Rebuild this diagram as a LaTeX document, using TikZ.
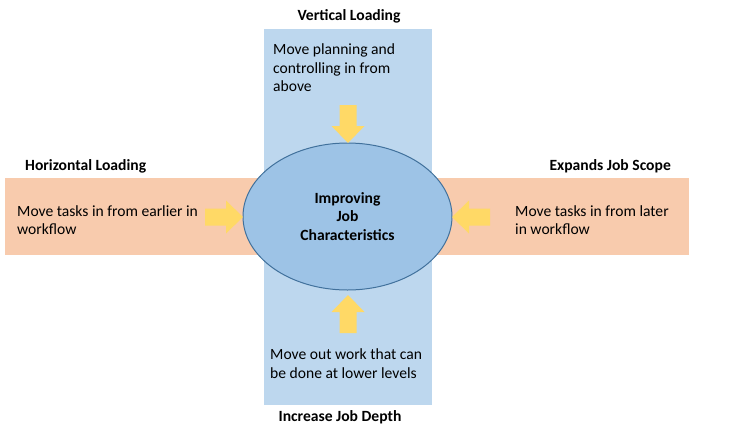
\documentclass[tikz,border=0pt]{standalone}
\usepackage{fontspec}
\setmainfont{Carlito}
\usetikzlibrary{shapes.geometric}
\definecolor{bandblue}{HTML}{BDD7EE}
\definecolor{bandorange}{HTML}{F8CBAD}
\definecolor{ellfill}{HTML}{9DC3E6}
\definecolor{ellline}{HTML}{41719C}
\definecolor{arrowgold}{HTML}{FFD966}
\tikzset{
  band/.style={draw=none},
  bodytext/.style={font=\fontsize{15.6}{18.5}\selectfont, align=left, inner sep=0pt},
  headtext/.style={font=\fontsize{15.6}{18.5}\selectfont\bfseries, inner sep=0pt},
  pics/blockarrow/.style={code={
    \fill[arrowgold] (0,0) -- (-17,16.5) -- (-17,8.5) -- (-38,8.5) -- (-38,-8.5) -- (-17,-8.5) -- (-17,-16.5) -- cycle;
  }}
}
\begin{document}
\begin{tikzpicture}[x=1pt,y=-1pt]
\useasboundingbox (0,0) rectangle (753,429);
\fill[white] (0,0) rectangle (753,429);
% bands
\fill[bandorange, band] (5,178) rectangle (689,255);
\fill[bandblue, band] (264,29) rectangle (432,405);
% ellipse
\node[ellipse, draw=ellline, line width=1pt, fill=ellfill, minimum width=209pt, minimum height=147pt, inner sep=0pt,
  font=\fontsize{15.6}{18.5}\selectfont\bfseries, align=center] (core) at (347.5,216.5) {Improving\\Job\\Characteristics};
% arrows
\coordinate (tTop) at (348,143);
\coordinate (tBot) at (348,295);
\coordinate (tLeft) at (243,217);
\coordinate (tRight) at (452,217);
\pic[rotate=-90] at (tTop) {blockarrow};
\pic[rotate=90] at (tBot) {blockarrow};
\pic at (tLeft) {blockarrow};
\pic[rotate=180] at (tRight) {blockarrow};
% headings
\node[headtext] (hv) at (349,16) {Vertical Loading};
\node[headtext, anchor=west] (hh) at (25,166) {Horizontal Loading};
\node[headtext, anchor=east] (he) at (671,166) {Expands Job Scope};
\node[headtext] (hd) at (340,417) {Increase Job Depth};
% body texts
\node[bodytext, anchor=west] (bt) at (273,68) {Move planning and\\controlling in from\\above};
\node[bodytext, anchor=west] (bl) at (17,220) {Move tasks in from earlier in\\workflow};
\node[bodytext, anchor=west] (br) at (515,220) {Move tasks in from later\\in workflow};
\node[bodytext, anchor=west] (bb) at (270,363.5) {Move out work that can\\be done at lower levels};
\end{tikzpicture}
\end{document}
